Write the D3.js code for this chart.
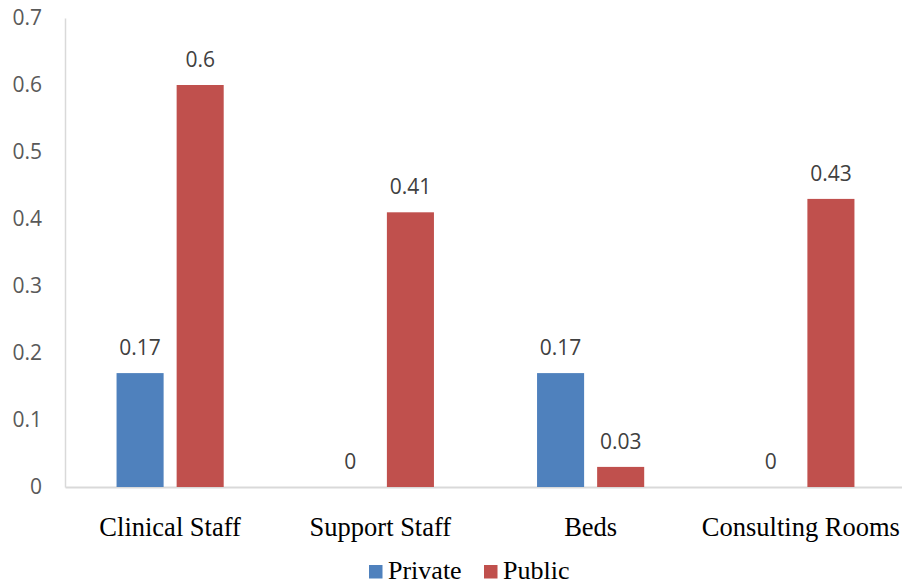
<!DOCTYPE html>
<html>
<head>
<meta charset="utf-8">
<script src="https://cdn.jsdelivr.net/npm/d3@7"></script>
<style>
  body { margin: 0; background: #fff; }
</style>
</head>
<body>
<div id="chart"></div>
<script>
// Data
const categories = ["Clinical Staff", "Support Staff", "Beds", "Consulting Rooms"];
const series = ["Private", "Public"];
const privateValues = [0.17, 0, 0.17, 0];
const publicValues = [0.6, 0.41, 0.03, 0.43];
const yTicks = [0, 0.1, 0.2, 0.3, 0.4, 0.5, 0.6, 0.7];
const colors = ["#4F81BD", "#C0504D"];

const width = 902;
const height = 584;
const margin = { top: 18, right: -4, bottom: 97, left: 65 };

const rows = categories.map((c, i) => ({
    category: c,
    values: [privateValues[i], publicValues[i]]
}));

const svg = d3.select("#chart")
    .append("svg")
    .attr("width", width)
    .attr("height", height);

// Scales
const x0 = d3.scaleBand()
    .domain(categories)
    .range([margin.left, width - margin.right])
    .padding(0);

const x1 = d3.scaleBand()
    .domain(series)
    .range([0, x0.bandwidth()])
    .paddingInner(0.2167)
    .paddingOuter(0.858);

const y = d3.scaleLinear()
    .domain([0, 0.7])
    .range([height - margin.bottom, margin.top]);

// Y axis (no ticks, just labels and a light line)
const yAxis = svg.append("g")
    .attr("transform", `translate(${margin.left},0)`)
    .call(d3.axisLeft(y).tickValues(yTicks).tickSize(0).tickPadding(23)
        .tickFormat(d => d === 0 ? "0" : d3.format(".1f")(d)));
yAxis.select(".domain").attr("stroke", "#d9d9d9").attr("stroke-width", 1.5);
yAxis.selectAll("text")
    .style("font-family", "'Open Sans', sans-serif")
    .style("font-size", "21px")
    .attr("fill", "#595959");

// X axis
const xAxis = svg.append("g")
    .attr("transform", `translate(0,${y(0)})`)
    .call(d3.axisBottom(x0).tickSize(0).tickPadding(30));
xAxis.select(".domain").attr("stroke", "#d9d9d9").attr("stroke-width", 2);
xAxis.selectAll("text")
    .style("font-family", "'Liberation Serif', 'Times New Roman', serif")
    .style("font-size", "26.5px")
    .attr("fill", "#000");

// Bars
const groups = svg.selectAll(".group")
    .data(rows)
    .enter()
    .append("g")
    .attr("class", "group")
    .attr("transform", d => `translate(${x0(d.category)},0)`);

groups.selectAll("rect")
    .data(d => d.values.map((v, i) => ({ key: series[i], value: v, idx: i })))
    .enter()
    .append("rect")
    .attr("x", d => x1(d.key))
    .attr("y", d => y(d.value))
    .attr("width", x1.bandwidth())
    .attr("height", d => y(0) - y(d.value))
    .attr("fill", d => colors[d.idx]);

// Value labels
groups.selectAll(".label")
    .data(d => d.values.map((v, i) => ({ key: series[i], value: v })))
    .enter()
    .append("text")
    .attr("class", "label")
    .attr("x", d => x1(d.key) + x1.bandwidth() / 2)
    .attr("y", d => y(d.value) - 18)
    .attr("text-anchor", "middle")
    .style("font-family", "'Open Sans', sans-serif")
    .style("font-size", "21px")
    .attr("fill", "#404040")
    .text(d => d.value === 0 ? "0" : String(d.value));

// Legend
const legendItems = [
    { name: series[0], color: colors[0], x: 369 },
    { name: series[1], color: colors[1], x: 484 }
];
const legend = svg.append("g");
legendItems.forEach(item => {
    legend.append("rect")
        .attr("x", item.x)
        .attr("y", 565)
        .attr("width", 13.5)
        .attr("height", 13.5)
        .attr("fill", item.color);
    legend.append("text")
        .attr("x", item.x + 19)
        .attr("y", 579)
        .style("font-family", "'Liberation Serif', 'Times New Roman', serif")
        .style("font-size", "26px")
        .attr("fill", "#000")
        .text(item.name);
});
</script>
</body>
</html>
